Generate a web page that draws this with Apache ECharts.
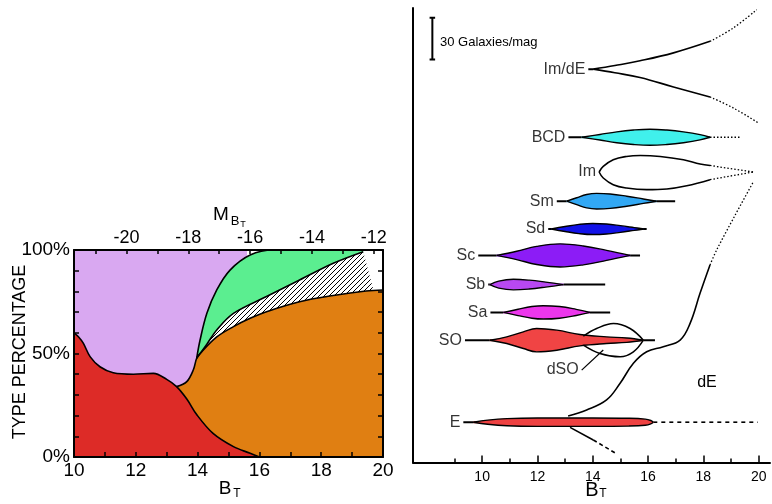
<!DOCTYPE html>
<html><head><meta charset="utf-8">
<script src="https://cdn.jsdelivr.net/npm/echarts@6/dist/echarts.min.js"></script>
<style>html,body{margin:0;padding:0;background:#fff}#c{width:772px;height:504px}</style>
</head><body><div id="c"></div><script>
// ================= LEFT PANEL: cumulative type percentage vs B_T =================
const redB    = [10, 10.15, 10.3, 10.52, 10.84, 11.27, 11.92, 12.57, 13.0, 13.32, 13.65, 13.97, 14.5, 15.16, 15.7, 16.0];
const redP    = [60, 58, 55, 48.5, 43.6, 40.7, 40, 40.4, 37.5, 34, 28, 20.5, 11.4, 5, 1.8, 0];
const dEB     = [13.32, 13.65, 13.86, 13.97, 14.08, 14.62, 15.16, 15.7, 16.23, 17.3, 18.39, 19.45, 20];
const dEP     = [34, 36.4, 42, 47.7, 50, 58, 63, 67, 70.2, 75, 78, 80.2, 80.7];
const hatchB  = [13.97, 14.3, 14.62, 15.16, 16.23, 17.3, 18.39, 19.36];
const hatchP  = [47.7, 54.5, 61.4, 69.4, 77.5, 85.5, 93.6, 99.2];
const hatchEdgeB = [19.36, 19.69];
const hatchEdgeP = [99.2, 80.7];
const irrB    = [13.97, 14.08, 14.3, 14.62, 15.05, 15.7, 16.45, 17.5, 18.5, 19.36];
const irrP    = [47.7, 56.5, 69.4, 80.7, 90.3, 97.6, 100, 100, 100, 100];
const spiralB = [10, 15.6];
const spiralP = [100, 100];
const bTicks  = [10, 11, 12, 13, 14, 15, 16, 17, 18, 19, 20];
const bLabels = [10, 12, 14, 16, 18, 20];
const mOffset = -31.7;                       // M_BT = B_T + mOffset
const mTicks  = [-21, -20, -19, -18, -17, -16, -15, -14, -13, -12];
const mLabels = [-20, -18, -16, -14, -12];
const pTicks  = [0, 10, 20, 30, 40, 50, 60, 70, 80, 90, 100];
const pLabels = [0, 50, 100];

// ================= RIGHT PANEL: spindle diagram (galaxies, 30 per scale bar) =================
const imdeCenter = 283, imdeTail = [13.84, 14.02];
const imdeUpB = [14.02, 14.8, 15.71, 16.92, 18.24], imdeUpW = [0, 2.6, 6.0, 11.7, 20];
const imdeLoB = [14.02, 14.8, 15.71, 16.92, 18.24], imdeLoW = [0, 2.6, 6.0, 12.8, 20];
const imdeUpDotB = [18.24, 19.08, 19.93], imdeUpDotW = [20, 29.6, 42.8];
const imdeLoDotB = [18.24, 19.08, 19.99], imdeLoDotW = [20, 27.9, 38.7];

const bcdCenter = 234, bcdTail = [13.12, 13.6];
const bcdB = [13.6, 14.26, 14.87, 15.47, 16.07, 16.68, 17.28, 17.88, 18.24];
const bcdW = [0, 2, 3.9, 5.2, 5.8, 5.2, 3.9, 1.9, 0];
const bcdDot = [18.24, 19.33];

const imCenter = 209;
const imUpB = [14.23, 14.38, 14.74, 15.22, 15.72, 16.44, 17.28, 17.88, 18.24];
const imUpW = [0, 4, 8.8, 11.2, 11.9, 11.2, 8.8, 5.8, 4.7];
const imLoB = [14.23, 14.38, 14.74, 15.22, 15.95, 16.68, 17.4, 18.24];
const imLoW = [0, 4.3, 9.1, 11.5, 12.7, 12.2, 9.9, 5.5];
const imDotB = [18.24, 19.8], imUpDotW = [4.7, 0], imLoDotW = [5.5, 0];

const smCenter = 188, smTail = [12.7, 16.98];
const smB = [13.06, 13.42, 13.78, 14.14, 14.63, 15.23, 15.83, 16.31];
const smW = [0, 2.5, 4.8, 5.6, 5.2, 3.6, 1.6, 0];

const sdCenter = 168, sdTail = [12.39, 15.95];
const sdB = [12.5, 13.0, 13.5, 14.0, 14.5, 15.0, 15.5, 15.85];
const sdW = [0, 1.8, 3.3, 4, 3.6, 2.4, 1, 0];

const scCenter = 149, scTail = [9.86, 15.71];
const scB = [10.53, 11.25, 11.97, 12.82, 13.66, 14.5, 15.35];
const scW = [0, 3, 6.5, 8.3, 6.8, 3.6, 0];

const sbCenter = 128, sbTail = [10.22, 14.45];
const sbB = [10.28, 10.6, 11.13, 11.7, 12.3, 12.94];
const sbW = [0, 2.5, 3.8, 3.2, 1.8, 0];

const saCenter = 108, saTail = [10.3, 14.63];
const saB = [10.77, 11.3, 11.8, 12.21, 12.8, 13.4, 13.9];
const saW = [0, 2.3, 4.2, 4.8, 4.2, 2.2, 0];

const s0Center = 88, s0Tail = [9.38, 16.25];
const s0B = [10.28, 10.89, 11.49, 11.97, 12.7, 13.54, 14.5, 15.23, 15.83];
const s0W = [0, 2.4, 6, 8.4, 7.2, 4.1, 2.4, 1.6, 0];

const ds0UpB = [13.66, 14.14, 14.75, 15.35, 15.83], ds0UpW = [2.9, 8.4, 12, 8.4, 0];
const ds0LoB = [13.66, 14.26, 14.99, 15.47, 15.83], ds0LoW = [3.6, 9.6, 12, 8.4, 0];
const ds0LeaderB = [13.6, 14.38], ds0LeaderY = [66.5, 80.9];

const eCenter = 29, eTail = [9.32, 9.68];
const eB = [9.68, 10.2, 10.9, 12, 14, 15.3, 15.9, 16.1, 16.19];
const eW = [0, 1.5, 2.6, 3, 3, 2.8, 2.2, 1.2, 0];
const eDash = [16.19, 19.97];

const dECurveB = [13.11, 13.78, 14.5, 14.99, 15.47, 15.95, 16.55, 17.16, 17.52, 17.88, 18.24];
const dECurveY = [33.5, 37.8, 45, 57, 71.4, 79.7, 83.3, 88.1, 100.1, 121.7, 142.1];
const dEDotB = [18.24, 18.48, 19.15, 19.81];
const dEDotY = [142.1, 152.9, 178, 202];
const eLowB = [13.18, 14.02], eLowY = [25.3, 16.2];
const eLowDashB = [14.02, 14.8], eLowDashY = [16.2, 7];

const scaleBarB = 8.2, scaleBarY = [290, 320], scaleCapB = [8.1, 8.3];
const rTicksMajor = [10, 12, 14, 16, 18, 20];
const rTicksMinor = [9, 11, 13, 15, 17, 19];

// ================= helpers =================
const NARROW = '"Liberation Sans Narrow", "Liberation Sans", Arial, sans-serif';
const SANS = '"Liberation Sans", Arial, sans-serif';
const zip = (xs, ys) => xs.map((x, i) => [x, ys[i]]);

function hatchPattern() {
  const c = document.createElement('canvas');
  c.width = 5; c.height = 5;
  const g = c.getContext('2d');
  g.fillStyle = '#fff'; g.fillRect(0, 0, 5, 5);
  g.strokeStyle = '#000'; g.lineWidth = 1;
  g.beginPath();
  g.moveTo(-1, 6); g.lineTo(6, -1);
  g.moveTo(-1, 1); g.lineTo(1, -1);
  g.moveTo(4, 6); g.lineTo(6, 4);
  g.stroke();
  return { image: c, repeat: 'repeat' };
}

const L = { xAxisIndex: 0, yAxisIndex: 0, type: 'line', symbol: 'none', silent: true, animation: false };
const R = { xAxisIndex: 2, yAxisIndex: 2, type: 'line', symbol: 'none', silent: true, animation: false };
const blk = (w, t) => ({ color: '#000', width: w || 1.5, type: t || 'solid' });

function seg(B, Y, style, z) {
  return Object.assign({}, R, { data: zip(B, Y), lineStyle: style, z: z || 2 });
}
// filled lens: each edge filled towards the centre line (plus a centre stroke hiding the seam)
function lens(B, W, c, color) {
  const fills = [1, -1].map(s => Object.assign({}, R, {
    data: B.map((b, i) => [b, c + s * W[i]]), smooth: 0.4, lineStyle: blk(1.4),
    areaStyle: { color: color, opacity: 1, origin: c }, z: 3
  }));
  return [seg([B[0], B[B.length - 1]], [c, c], { color: color, width: 2 }, 3)].concat(fills);
}
// tail line outside of the lens
function tails(tail, B, c) {
  return [
    seg([tail[0], B[0]], [c, c], blk(2)),
    seg([B[B.length - 1], tail[1]], [c, c], blk(2))
  ];
}
function edge(B, W, c, sign, style, smooth) {
  return Object.assign({}, R, { data: B.map((b, i) => [b, c + sign * W[i]]), smooth: smooth === undefined ? 0.4 : smooth, lineStyle: style, z: 4 });
}

const series = [
  // ---- left panel areas (drawn bottom-up in z order) ----
  Object.assign({}, L, { data: zip(spiralB, spiralP), lineStyle: { width: 0 }, areaStyle: { color: '#D9A8F1', opacity: 1 } }),
  Object.assign({}, L, { data: zip(irrB, irrP), smooth: 0.35, lineStyle: blk(1.6), areaStyle: { color: '#5BEE90', opacity: 1 } }),
  Object.assign({}, L, { data: zip(hatchEdgeB, hatchEdgeP), lineStyle: { width: 0 }, areaStyle: { color: hatchPattern(), opacity: 1 } }),
  Object.assign({}, L, { data: zip(hatchB, hatchP), smooth: 0.35, lineStyle: blk(1.6), areaStyle: { color: hatchPattern(), opacity: 1 } }),
  Object.assign({}, L, { data: zip(dEB, dEP), smooth: 0.35, lineStyle: blk(1.6), areaStyle: { color: '#E07F12', opacity: 1 } }),
  Object.assign({}, L, { data: zip(redB, redP), smooth: 0.35, lineStyle: blk(1.6), areaStyle: { color: '#DD2B27', opacity: 1 } }),

  // ---- right panel ----
  seg(imdeTail, [imdeCenter, imdeCenter], blk(2)),
  edge(imdeUpB, imdeUpW, imdeCenter, 1, blk(1.6)),
  edge(imdeLoB, imdeLoW, imdeCenter, -1, blk(1.6)),
  edge(imdeUpDotB, imdeUpDotW, imdeCenter, 1, blk(1.3, [1.5, 2])),
  edge(imdeLoDotB, imdeLoDotW, imdeCenter, -1, blk(1.3, [1.5, 2])),

  seg(bcdTail, [bcdCenter, bcdCenter], blk(2)),
  ...lens(bcdB, bcdW, bcdCenter, '#40F0EC'),
  seg(bcdDot, [bcdCenter, bcdCenter], blk(1.3, [1.5, 2])),

  edge(imUpB, imUpW, imCenter, 1, blk(1.6)),
  edge(imLoB, imLoW, imCenter, -1, blk(1.6)),
  edge(imDotB, imUpDotW, imCenter, 1, blk(1.3, [1.5, 2]), false),
  edge(imDotB, imLoDotW, imCenter, -1, blk(1.3, [1.5, 2]), false),

  ...tails(smTail, smB, smCenter),
  ...lens(smB, smW, smCenter, '#32A8F4'),
  ...tails(sdTail, sdB, sdCenter),
  ...lens(sdB, sdW, sdCenter, '#1212E8'),
  ...tails(scTail, scB, scCenter),
  ...lens(scB, scW, scCenter, '#8C1CF6'),
  ...tails(sbTail, sbB, sbCenter),
  ...lens(sbB, sbW, sbCenter, '#B848F2'),
  ...tails(saTail, saB, saCenter),
  ...lens(saB, saW, saCenter, '#EC36EC'),
  ...tails(s0Tail, s0B, s0Center),
  ...lens(s0B, s0W, s0Center, '#F04444'),
  edge(ds0UpB, ds0UpW, s0Center, 1, blk(1.5)),
  edge(ds0LoB, ds0LoW, s0Center, -1, blk(1.5)),
  seg(ds0LeaderB, ds0LeaderY, blk(1.2)),

  seg(eTail, [eCenter, eCenter], blk(2)),
  ...lens(eB, eW, eCenter, '#EE4242'),
  seg(eDash, [eCenter, eCenter], blk(1.6, [4, 4])),
  Object.assign({}, R, { data: zip(dECurveB, dECurveY), smooth: 0.4, lineStyle: blk(1.6), z: 2 }),
  Object.assign({}, R, { data: zip(dEDotB, dEDotY), smooth: 0.3, lineStyle: blk(1.3, [1.5, 2]), z: 2 }),
  seg(eLowB, eLowY, blk(1.6)),
  seg(eLowDashB, eLowDashY, blk(1.6, [4, 3])),

  // scale bar
  seg([scaleBarB, scaleBarB], scaleBarY, blk(2)),
  seg(scaleCapB, [scaleBarY[0], scaleBarY[0]], blk(2)),
  seg(scaleCapB, [scaleBarY[1], scaleBarY[1]], blk(2)),

  // type labels (attached to the start of each sequence)
  {
    type: 'scatter', xAxisIndex: 2, yAxisIndex: 2, symbolSize: 0, silent: true, animation: false, z: 6,
    label: { show: true, position: 'left', distance: 3, formatter: '{b}', color: '#000', fontSize: 16, fontFamily: SANS },
    data: [
      { name: 'Im/dE', value: [imdeTail[0], imdeCenter] },
      { name: 'BCD', value: [bcdTail[0], bcdCenter] },
      { name: 'Im', value: [imUpB[0], imCenter] },
      { name: 'Sm', value: [smTail[0], smCenter] },
      { name: 'Sd', value: [sdTail[0], sdCenter] },
      { name: 'Sc', value: [scTail[0], scCenter] },
      { name: 'Sb', value: [sbTail[0], sbCenter] },
      { name: 'Sa', value: [saTail[0], saCenter] },
      { name: 'SO', value: [s0Tail[0], s0Center] },
      { name: 'E', value: [eTail[0], eCenter] },
      { name: 'dSO', value: [ds0LeaderB[0], ds0LeaderY[0]] }
    ]
  }
];

const axLine = { onZero: false, lineStyle: { color: '#000', width: 2 } };
const option = {
  backgroundColor: '#fff',
  animation: false,
  grid: [
    { left: 74, top: 250, width: 309, height: 207 },
    { left: 413, top: 8, width: 357, height: 454.5 }
  ],
  xAxis: [
    { gridIndex: 0, type: 'value', position: 'bottom', min: 10, max: 20, z: 10,
      axisLine: axLine, splitLine: { show: false },
      axisTick: { inside: true, length: 5, customValues: bTicks, lineStyle: { color: '#000', width: 1.5 } },
      axisLabel: { customValues: bLabels, margin: 4, color: '#000', fontSize: 19, fontFamily: NARROW } },
    { gridIndex: 0, type: 'value', position: 'top', min: 10 + mOffset, max: 20 + mOffset, z: 10,
      axisLine: axLine, splitLine: { show: false },
      axisTick: { inside: true, length: 4, customValues: mTicks, lineStyle: { color: '#000', width: 1.5 } },
      axisLabel: { customValues: mLabels, margin: 3, color: '#000', fontSize: 18, fontFamily: NARROW } },
    { gridIndex: 1, type: 'value', position: 'bottom', min: 7.5, max: 20.41,
      axisLine: axLine, splitLine: { show: false },
      axisTick: { inside: true, length: 7, customValues: rTicksMajor, lineStyle: { color: '#000', width: 1.5 } },
      axisLabel: { customValues: rTicksMajor, margin: 8, color: '#000', fontSize: 14, fontFamily: NARROW } },
    { gridIndex: 1, type: 'value', position: 'bottom', offset: 0, min: 7.5, max: 20.41,
      axisLine: { show: false, onZero: false }, splitLine: { show: false },
      axisTick: { inside: true, length: 4, customValues: rTicksMinor, lineStyle: { color: '#000', width: 1.5 } },
      axisLabel: { show: false } }
  ],
  yAxis: [
    { gridIndex: 0, type: 'value', position: 'left', min: 0, max: 100, z: 10,
      axisLine: axLine, splitLine: { show: false },
      axisTick: { inside: true, length: 5, customValues: pTicks, lineStyle: { color: '#000', width: 1.5 } },
      axisLabel: { customValues: pLabels, formatter: v => v + '%', margin: 4, color: '#000', fontSize: 19, fontFamily: NARROW } },
    { gridIndex: 0, type: 'value', position: 'right', min: 0, max: 100, z: 10,
      axisLine: axLine, splitLine: { show: false },
      axisTick: { inside: true, length: 5, customValues: pTicks, lineStyle: { color: '#000', width: 1.5 } },
      axisLabel: { show: false } },
    { gridIndex: 1, type: 'value', position: 'left', min: 0, max: 327,
      axisLine: axLine, splitLine: { show: false }, axisTick: { show: false }, axisLabel: { show: false } }
  ],
  graphic: [
    { type: 'text', x: 20, y: 352, rotation: Math.PI / 2,
      style: { text: 'TYPE PERCENTAGE', fill: '#000', fontSize: 18, fontFamily: SANS, align: 'center', verticalAlign: 'middle' } },
    { type: 'text', x: 221, y: 215, style: { text: 'M', fill: '#000', fontSize: 19, fontFamily: SANS, align: 'center', verticalAlign: 'middle' } },
    { type: 'text', x: 235, y: 221, style: { text: 'B', fill: '#000', fontSize: 13, fontFamily: SANS, align: 'center', verticalAlign: 'middle' } },
    { type: 'text', x: 243, y: 225, style: { text: 'T', fill: '#000', fontSize: 9, fontFamily: SANS, align: 'center', verticalAlign: 'middle' } },
    { type: 'text', x: 225, y: 489, style: { text: 'B', fill: '#000', fontSize: 19, fontFamily: SANS, align: 'center', verticalAlign: 'middle' } },
    { type: 'text', x: 237, y: 494, style: { text: 'T', fill: '#000', fontSize: 12, fontFamily: SANS, align: 'center', verticalAlign: 'middle' } },
    { type: 'text', x: 592, y: 490, style: { text: 'B', fill: '#000', fontSize: 20, fontFamily: SANS, align: 'center', verticalAlign: 'middle' } },
    { type: 'text', x: 603, y: 494, style: { text: 'T', fill: '#000', fontSize: 12, fontFamily: SANS, align: 'center', verticalAlign: 'middle' } },
    { type: 'text', x: 133, y: 312, style: { text: 'Spiral', fill: '#000', fontSize: 18, fontFamily: SANS, align: 'center', verticalAlign: 'middle' } },
    { type: 'text', x: 255, y: 281, style: { text: 'Irr', fill: '#000', fontSize: 17, fontFamily: SANS, align: 'center', verticalAlign: 'middle' } },
    { type: 'text', x: 287, y: 387, style: { text: 'dE', fill: '#000', fontSize: 18, fontFamily: SANS, align: 'center', verticalAlign: 'middle' } },
    { type: 'text', x: 127, y: 417, style: { text: 'E+SO', fill: '#000', fontSize: 18, fontFamily: SANS, align: 'center', verticalAlign: 'middle' } },
    { type: 'text', x: 707, y: 383, style: { text: 'dE', fill: '#000', fontSize: 16, fontFamily: SANS, align: 'center', verticalAlign: 'middle' } },
    { type: 'text', x: 440, y: 42, style: { text: '30 Galaxies/mag', fill: '#000', fontSize: 13, fontFamily: SANS, align: 'left', verticalAlign: 'middle' } }
  ],
  series: series
};

const chart = echarts.init(document.getElementById('c'), null, { renderer: 'canvas' });
chart.setOption(option);
</script></body></html>
